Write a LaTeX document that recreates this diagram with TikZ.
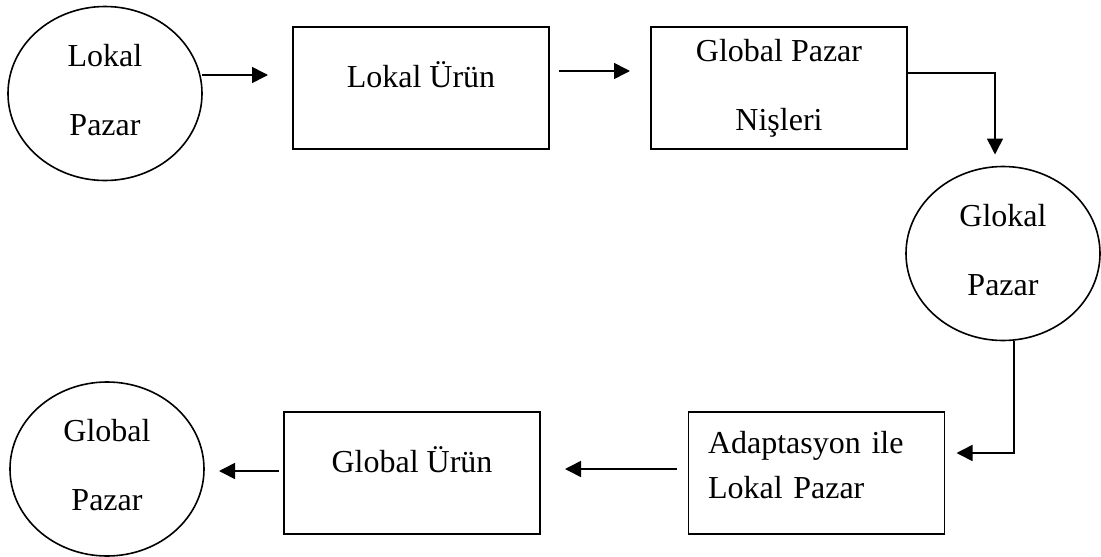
\documentclass[tikz,border=0pt]{standalone}
\usepackage{fontspec}
\setmainfont{Liberation Serif}
\usetikzlibrary{arrows.meta,shapes.geometric}
\newcommand{\mydp}{\rule[-8pt]{0pt}{8pt}}
\begin{document}
\begin{tikzpicture}[x=1pt,y=-1pt,
  every node/.style={inner sep=0pt, outer sep=0pt},
  oval/.style={draw, ellipse, line width=1.6pt, minimum width=194pt, minimum height=174pt, align=center, font=\fontsize{32}{69}\selectfont},
  box/.style={draw, rectangle, line width=1.6pt, minimum width=256pt, minimum height=122pt, font=\fontsize{32}{69}\selectfont},
  arr/.style={line width=1.6pt, -{Triangle[length=16pt,width=16pt]}}]
\useasboundingbox (0,0) rectangle (1101,557);

\node[oval] (lp) at (105,93.5) {Lokal\\Pazar\mydp};
\node[box, text depth=26pt] (lu) at (421,88) {Lokal Ürün};
\node[box, align=center] (gpn) at (779,88) {Global Pazar\\Nişleri};
\node[oval] (gk) at (1003,253.5) {Glokal\\Pazar\mydp};
\node[box, align=left, text width=217pt, font=\fontsize{32}{45}\selectfont] (ad) at (816.5,473) {Adaptasyon ile\\Lokal Pazar\rule[-16.6pt]{0pt}{16.6pt}};
\node[box, text depth=26pt] (gu) at (412,473) {Global Ürün};
\node[oval] (gp) at (107,469) {Global\\Pazar\mydp};

\draw[arr, shorten >=25pt] (lp.east |- 0,75) -- (lu.west |- 0,75);
\draw[arr, shorten <=10pt, shorten >=21pt] (lu.east |- 0,71) -- (gpn.west |- 0,71);
\draw[arr, shorten >=12pt] (gpn.east |- 0,73) -| ([xshift=-8pt]gk.north);
\draw[arr, shorten >=12pt] ([xshift=11pt]gk.south) |- (ad.east |- 0,453);
\draw[arr, shorten <=12pt, shorten >=25pt] (ad.west |- 0,469) -- (gu.east |- 0,469);
\draw[arr, shorten <=5pt, shorten >=15pt] (gu.west |- 0,471) -- (gp.east |- 0,471);
\end{tikzpicture}
\end{document}
